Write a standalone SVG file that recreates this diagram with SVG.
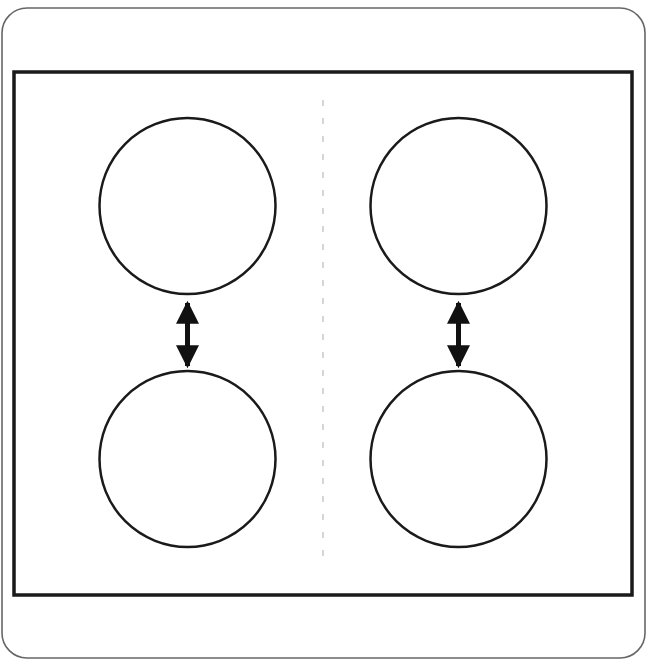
<svg xmlns="http://www.w3.org/2000/svg" width="648" height="662" viewBox="0 0 648 662">
<defs>
<style>
.c{fill:#fff;stroke:#1a1a1a;stroke-width:2.5}
.a{stroke:#111;stroke-width:5;fill:none}
</style>
<marker id="ah" viewBox="0 0 10 10" refX="9" refY="5" markerWidth="4.6" markerHeight="4.6" orient="auto-start-reverse" markerUnits="strokeWidth"><path d="M0,0 L10,5 L0,10 z" fill="#111"/></marker>
</defs>
<rect width="648" height="662" fill="#fff"/>
<rect x="2" y="8" width="643" height="650" rx="25" fill="#fff" stroke="#666" stroke-width="1.6"/>
<rect x="14" y="72" width="618" height="523" fill="#fff" stroke="#1a1a1a" stroke-width="3.5"/>
<line x1="323" y1="100" x2="323" y2="565" stroke="#bbb" stroke-width="1.2" stroke-dasharray="6 12"/>
<g id="n1"><circle class="c" cx="187.5" cy="206" r="88"/></g>
<g id="n2"><circle class="c" cx="187.5" cy="459" r="88"/></g>
<g id="n3"><circle class="c" cx="458.5" cy="206" r="88"/></g>
<g id="n4"><circle class="c" cx="458.5" cy="459" r="88"/></g>
<g id="connectors">
<line class="a" x1="187.5" y1="303" x2="187.5" y2="366" marker-start="url(#ah)" marker-end="url(#ah)"/>
<line class="a" x1="458.5" y1="303" x2="458.5" y2="366" marker-start="url(#ah)" marker-end="url(#ah)"/>
</g>
</svg>
